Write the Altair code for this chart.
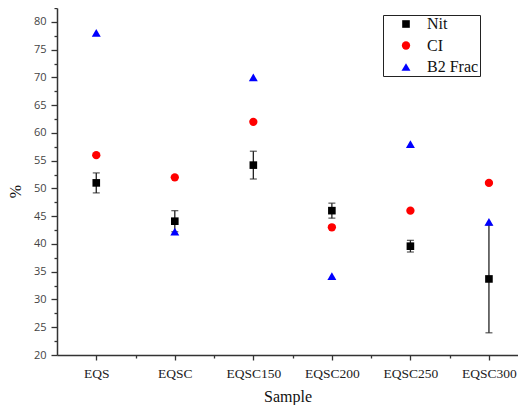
import altair as alt
import pandas as pd

samples = ["EQS", "EQSC", "EQSC150", "EQSC200", "EQSC250", "EQSC300"]
nit = [51.0, 44.1, 54.2, 46.0, 39.6, 33.7]
nit_err = [1.8, 1.9, 2.5, 1.35, 1.05, 9.7]
ci = [56.0, 52.0, 62.0, 43.0, 46.0, 51.0]
b2 = [78.0, 42.2, 70.0, 34.2, 58.0, 44.0]

series = ["Nit", "CI", "B2 Frac"]
colors = ["#000000", "#ff0000", "#0000ff"]
shapes = ["square", "circle", "triangle-up"]
sizes = [58, 80, 130]

rows = []
for name, vals in zip(series, [nit, ci, b2]):
    for i, v in enumerate(vals):
        rows.append({"idx": i + 1, "sample": samples[i], "series": name, "value": v})
pts = pd.DataFrame(rows)

err = pd.DataFrame({
    "idx": list(range(1, len(samples) + 1)),
    "lo": [v - e for v, e in zip(nit, nit_err)],
    "hi": [v + e for v, e in zip(nit, nit_err)],
})

label_arr = "[" + ",".join("'" + s + "'" for s in samples) + "]"

x_axis = alt.Axis(
    title="Sample",
    values=[1 + 0.5 * k for k in range(11)],
    labelExpr="datum.value % 1 === 0 ? " + label_arr + "[datum.value - 1] : ''",
    labelFont="Liberation Serif", labelFontSize=13.5, labelColor="#222",
    labelPadding=6, labelOverlap=False, labelFlush=False,
    tickSize={"condition": {"test": "datum.value % 1 !== 0", "value": 3}, "value": 5},
    tickColor="#333", tickWidth=1.3,
    domainColor="#333", domainWidth=1.5,
    titleFont="Liberation Serif", titleFontSize=16, titleFontWeight="normal",
    titleColor="#111", titlePadding=9, grid=False,
)

y_axis = alt.Axis(
    title="%",
    values=[20 + 2.5 * k for k in range(26)],
    labelExpr="datum.value % 5 === 0 ? datum.label : ''",
    labelFont="Open Sans", labelFontSize=11, labelColor="#444",
    labelPadding=5, labelOverlap=False, labelFlush=False,
    tickSize={"condition": {"test": "datum.value % 5 !== 0", "value": 3}, "value": 6},
    tickColor="#333", tickWidth=1.3,
    domainColor="#333", domainWidth=1.5,
    titleFont="Liberation Serif", titleFontSize=16, titleFontWeight="normal",
    titleColor="#111", titleX=-42, titleBaseline="middle", titleY=183, grid=False,
)

xs = alt.Scale(domain=[0.5, 6.37], nice=False, zero=False)
ys = alt.Scale(domain=[20, 82.5], nice=False, zero=False)

legend = alt.Legend(
    title=None, orient="none", legendX=326, legendY=7,
    strokeColor="#222", fillColor="white", padding=1,
    labelFont="Liberation Serif", labelFontSize=16, labelColor="#111",
    symbolOffset=14, labelOffset=13, rowPadding=5.5,
    symbolStrokeWidth=0,
)

rule = alt.Chart(err).mark_rule(color="#222", strokeWidth=1.3).encode(
    x=alt.X("idx:Q", scale=xs, axis=x_axis),
    y=alt.Y("lo:Q", scale=ys, axis=y_axis),
    y2="hi:Q",
)
cap_lo = alt.Chart(err).mark_tick(color="#222", orient="horizontal", size=7, thickness=1.3).encode(
    x=alt.X("idx:Q", scale=xs, axis=x_axis),
    y=alt.Y("lo:Q", scale=ys, axis=y_axis),
)
cap_hi = alt.Chart(err).mark_tick(color="#222", orient="horizontal", size=7, thickness=1.3).encode(
    x=alt.X("idx:Q", scale=xs, axis=x_axis),
    y=alt.Y("hi:Q", scale=ys, axis=y_axis),
)

points = alt.Chart(pts).mark_point(filled=True, opacity=1, strokeWidth=0).encode(
    x=alt.X("idx:Q", scale=xs, axis=x_axis),
    y=alt.Y("value:Q", scale=ys, axis=y_axis),
    color=alt.Color("series:N", scale=alt.Scale(domain=series, range=colors), legend=legend),
    shape=alt.Shape("series:N", scale=alt.Scale(domain=series, range=shapes), legend=legend),
    size=alt.Size("series:N", scale=alt.Scale(domain=series, range=sizes), legend=legend),
)

chart = alt.layer(rule, cap_lo, cap_hi, points).properties(
    width=461, height=347,
    autosize=alt.AutoSizeParams(type="none"),
    padding={"left": 49, "top": 0, "right": 0, "bottom": 50},
).configure_view(stroke=None).configure_legend(
    labelFont="Liberation Serif", labelFontSize=16, labelColor="#111"
)

chart.save("out.html", embed_options={"renderer": "svg", "actions": False})
